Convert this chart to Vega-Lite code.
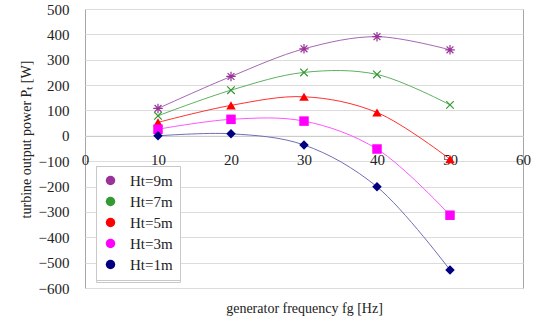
{
  "$schema": "https://vega.github.io/schema/vega-lite/v6.json",
  "width": 438,
  "height": 279,
  "padding": {"left": 18, "top": 2, "right": 5, "bottom": 5},
  "background": "white",
  "config": {
    "view": {"stroke": "#a6a6a6", "strokeWidth": 1},
    "axis": {"labelFont": "Liberation Serif", "titleFont": "Liberation Serif", "labelColor": "#222", "titleColor": "#222", "titleFontWeight": "normal"},
    "legend": {"labelFont": "Liberation Serif", "labelColor": "#222"}
  },
  "data": {
    "values": [
      {"f": 10, "P": 108, "s": "Ht=9m"}, {"f": 20, "P": 234, "s": "Ht=9m"}, {"f": 30, "P": 343, "s": "Ht=9m"}, {"f": 40, "P": 391, "s": "Ht=9m"}, {"f": 50, "P": 339, "s": "Ht=9m"},
      {"f": 10, "P": 79, "s": "Ht=7m"}, {"f": 20, "P": 180, "s": "Ht=7m"}, {"f": 30, "P": 250, "s": "Ht=7m"}, {"f": 40, "P": 242, "s": "Ht=7m"}, {"f": 50, "P": 122, "s": "Ht=7m"},
      {"f": 10, "P": 53, "s": "Ht=5m"}, {"f": 20, "P": 120, "s": "Ht=5m"}, {"f": 30, "P": 154, "s": "Ht=5m"}, {"f": 40, "P": 92, "s": "Ht=5m"}, {"f": 50, "P": -92, "s": "Ht=5m"},
      {"f": 10, "P": 26, "s": "Ht=3m"}, {"f": 20, "P": 65, "s": "Ht=3m"}, {"f": 30, "P": 58, "s": "Ht=3m"}, {"f": 40, "P": -52, "s": "Ht=3m"}, {"f": 50, "P": -313, "s": "Ht=3m"},
      {"f": 10, "P": 0, "s": "Ht=1m"}, {"f": 20, "P": 8, "s": "Ht=1m"}, {"f": 30, "P": -36, "s": "Ht=1m"}, {"f": 40, "P": -201, "s": "Ht=1m"}, {"f": 50, "P": -529, "s": "Ht=1m"}
    ]
  },
  "encoding": {
    "x": {
      "field": "f", "type": "quantitative",
      "scale": {"domain": [0, 60], "nice": false},
      "axis": {
        "orient": "bottom", "offset": -152.18, "values": [0, 10, 20, 30, 40, 50, 60],
        "grid": false, "ticks": false, "domain": true, "domainColor": "#c8c8c8",
        "labelFont": "Liberation Serif", "labelFontSize": 15, "labelPadding": 17, "labelFlush": false,
        "title": "generator frequency fg [Hz]", "titleFontSize": 14,
        "titleY": 173, "titleBaseline": "middle"
      }
    },
    "y": {
      "field": "P", "type": "quantitative",
      "scale": {"domain": [-600, 500], "nice": false, "zero": false},
      "axis": {
        "values": [-600, -500, -400, -300, -200, -100, 0, 100, 200, 300, 400, 500],
        "grid": true, "gridColor": "#dcdcdc", "ticks": false, "domain": false,
        "labelFont": "Liberation Serif", "labelFontSize": 15, "labelPadding": 16,
        "title": "turbine output power Pₜ [W]", "titleFontSize": 14,
        "titleX": -59, "titleY": 130, "titleAngle": -90, "titleAlign": "center", "titleBaseline": "middle"
      }
    }
  },
  "layer": [
    {
      "mark": {"type": "line", "interpolate": "catmull-rom", "strokeWidth": 1},
      "encoding": {
        "color": {
          "field": "s", "type": "nominal", "legend": null,
          "scale": {"domain": ["Ht=9m", "Ht=7m", "Ht=5m", "Ht=3m", "Ht=1m"], "range": ["#a766b5", "#5fb05f", "#ff3030", "#ff55ff", "#6f6fb5"]}
        }
      }
    },
    {
      "mark": {"type": "point", "filled": true, "size": 90, "opacity": 1},
      "encoding": {
        "color": {
          "field": "s", "type": "nominal",
          "scale": {"domain": ["Ht=9m", "Ht=7m", "Ht=5m", "Ht=3m", "Ht=1m"], "range": ["#993399", "#339933", "#ff0000", "#ff00ff", "#000080"]},
          "legend": {
            "title": null, "orient": "none", "legendX": 11, "legendY": 157,
            "fillColor": "white", "strokeColor": "#c8c8c8", "padding": 7,
            "labelFontSize": 15, "labelOffset": 12, "symbolSize": 90, "rowPadding": 5
          }
        },
        "shape": {
          "field": "s", "type": "nominal",
          "scale": {"domain": ["Ht=9m", "Ht=7m", "Ht=5m", "Ht=3m", "Ht=1m"], "range": [
            "M-1,0.13L1,0.13L1,-0.13L-1,-0.13ZM-0.13,-1L-0.13,1L0.13,1L0.13,-1ZM-0.81,-0.63L0.63,0.81L0.81,0.63L-0.63,-0.81ZM-0.63,0.81L0.81,-0.63L0.63,-0.81L-0.81,0.63Z",
            "M-0.89,-0.71L0.71,0.89L0.89,0.71L-0.71,-0.89ZM-0.71,0.89L0.89,-0.71L0.71,-0.89L-0.89,0.71Z",
            "triangle-up", "square", "diamond"]},
          "legend": {
            "title": null, "orient": "none", "legendX": 11, "legendY": 157,
            "fillColor": "white", "strokeColor": "#c8c8c8", "padding": 7,
            "labelFontSize": 15, "labelOffset": 12, "symbolSize": 90, "rowPadding": 5
          }
        }
      }
    }
  ],
  "resolve": {"scale": {"color": "independent"}}
}
